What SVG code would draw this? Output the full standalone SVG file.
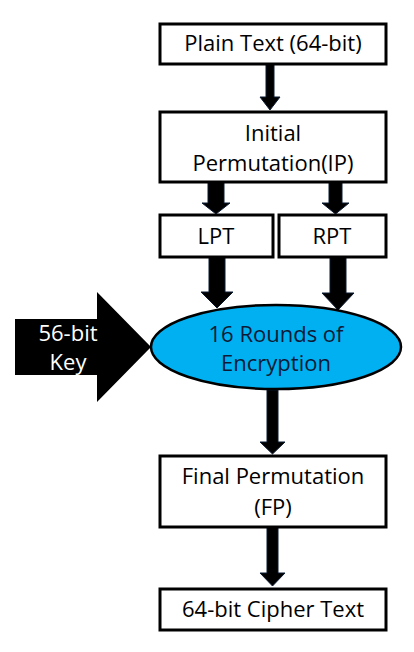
<svg xmlns="http://www.w3.org/2000/svg" width="414" height="652" viewBox="0 0 414 652">
<style>
.box{fill:#fff;stroke:#000;stroke-width:3}
.t{font-family:"Open Sans",Lato,sans-serif;font-size:22px;fill:#000;text-anchor:middle;font-variant-ligatures:none}
.w{fill:#fff}
.n{fill:#0c1a36}
.arr{fill:#000;stroke:#0b1a33;stroke-width:1}
</style>
<rect width="414" height="652" fill="#fff"/>
<g id="connectors">
<polygon class="arr" points="266,64 274,64 274,97 280,97 270,110 260,97 266,97"/>
<polygon class="arr" points="208,182 224,182 224,203 230,203 216,214 202,203 208,203"/>
<polygon class="arr" points="329,182 342,182 342,203 349,203 335.5,214 322,203 329,203"/>
<polygon class="arr" points="209,257 225,257 225,292 233,292 217,308 201,292 209,292"/>
<polygon class="arr" points="330,257 346,257 346,293 354,293 338,310 322,293 330,293"/>
<polygon class="arr" points="267,390 278,390 278,442 285,442 272.5,454 260,442 267,442"/>
<polygon class="arr" points="267,527 278,527 278,573 285,573 272.5,586 260,573 267,573"/>
</g>
<g id="key">
<polygon fill="#000" points="15,319 97,319 97,292 151,347 97,402 97,375 15,375"/>
<text class="t w" x="68" y="341">56-bit</text>
<text class="t w" x="68" y="370">Key</text>
</g>
<g id="plain">
<rect class="box" x="160" y="24" width="226" height="40"/>
<text class="t" x="273" y="51">Plain Text (64-bit)</text>
</g>
<g id="ip">
<rect class="box" x="160" y="112" width="226" height="70"/>
<text class="t" x="273" y="141">Initial</text>
<text class="t" x="273" y="171">Permutation(IP)</text>
</g>
<g id="lpt">
<rect class="box" x="160" y="215" width="113" height="42"/>
<text class="t" x="216" y="244">LPT</text>
</g>
<g id="rpt">
<rect class="box" x="279" y="215" width="107" height="42"/>
<text class="t" x="332" y="244">RPT</text>
</g>
<g id="rounds">
<ellipse cx="276" cy="347" rx="125" ry="42" fill="#00B0F0" stroke="#000" stroke-width="2.5"/>
<text class="t n" x="276" y="342">16 Rounds of</text>
<text class="t n" x="276" y="371">Encryption</text>
</g>
<g id="fp">
<rect class="box" x="160" y="456" width="226" height="71"/>
<text class="t" x="273" y="484">Final Permutation</text>
<text class="t" x="273" y="515">(FP)</text>
</g>
<g id="cipher">
<rect class="box" x="160" y="589" width="226" height="41"/>
<text class="t" x="273" y="617">64-bit Cipher Text</text>
</g>
</svg>
